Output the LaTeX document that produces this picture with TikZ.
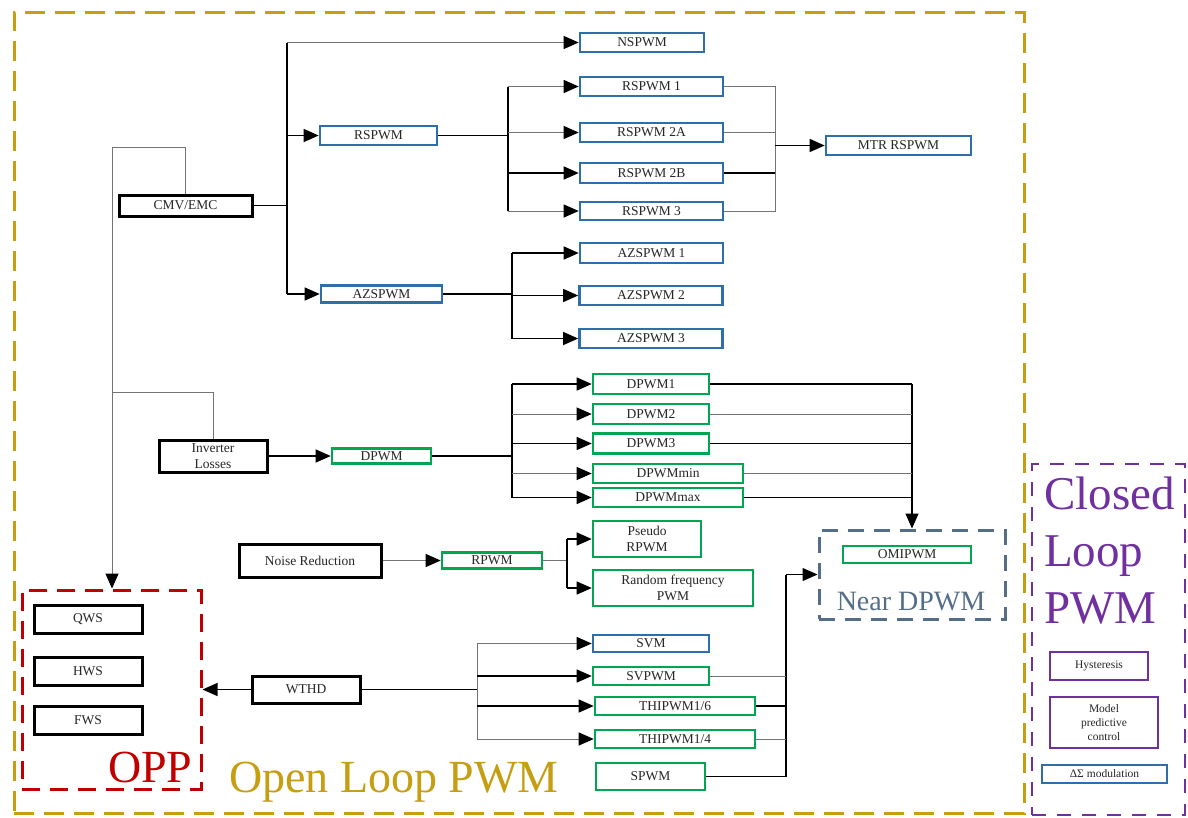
\documentclass[tikz,border=0pt]{standalone}
\usepackage{fontspec}
\setmainfont{Liberation Serif}
\usetikzlibrary{arrows.meta}
\definecolor{gold}{RGB}{198,158,18}
\definecolor{boxblue}{RGB}{46,110,170}
\definecolor{boxgreen}{RGB}{0,166,81}
\definecolor{oppred}{RGB}{192,0,0}
\definecolor{purp}{RGB}{112,48,160}
\definecolor{slate}{RGB}{84,110,135}
\tikzset{
  bx/.style={draw, line width=2.6pt, fill=white, inner sep=0pt, align=center,
    font=\fontsize{13.5}{16}\selectfont, text=black!85},
  sz/.style 2 args={minimum width=#1pt, minimum height=#2pt},
  bbox/.style={bx, draw=boxblue},
  gbox/.style={bx, draw=boxgreen},
  kbox/.style={bx, draw=black, line width=3pt},
  pbox/.style={bx, draw=purp, line width=2.2pt, font=\fontsize{11.5}{14}\selectfont},
  wk/.style={line width=1.3pt, draw=black},
  wg/.style={line width=1pt, draw=black!55},
  ar/.style={-{Triangle[length=15pt,width=13pt,color=black]}},
  bigtxt/.style={anchor=base west, inner sep=0pt, font=\fontsize{46}{46}\selectfont},
}
\begin{document}
\begin{tikzpicture}[x=1pt,y=-1pt]
\useasboundingbox (0,0) rectangle (1188,817);
% containers
\node[draw=gold, line width=3pt, dash pattern=on 20pt off 10pt, sz={1010}{801}, inner sep=0pt] (outer) at (519,412.5) {};
\node[draw=purp, line width=2.5pt, dash pattern=on 14pt off 11pt, sz={153}{351}, inner sep=0pt] (closed) at (1108.5,639.5) {};
\node[draw=oppred, line width=3pt, dash pattern=on 18pt off 10pt, sz={179}{199}, inner sep=0pt] (opp) at (111.5,689.5) {};
\node[draw=slate, line width=3pt, dash pattern=on 16pt off 10pt, sz={186}{89}, inner sep=0pt] (nearbox) at (912,574.5) {};

% boxes
\node[kbox, sz={133}{21}] (cmv) at (185.5,205.5) {CMV/EMC};
\node[bbox, sz={124}{19}] (nspwm) at (642,42.5) {NSPWM};
\node[bbox, sz={117}{19}] (rspwm) at (378.5,135.5) {RSPWM};
\node[bbox, sz={121}{17}] (azspwm) at (381.5,294) {AZSPWM};
\node[bbox, sz={143}{19}] (rs1) at (651.5,86.5) {RSPWM 1};
\node[bbox, sz={143}{19}] (rs2a) at (651.5,132.5) {RSPWM 2A};
\node[bbox, sz={143}{20}] (rs2b) at (651.5,173) {RSPWM 2B};
\node[bbox, sz={143}{18}] (rs3) at (651.5,211) {RSPWM 3};
\node[bbox, sz={145}{19}] (mtr) at (898.5,145.5) {MTR RSPWM};
\node[bbox, sz={143}{20}] (az1) at (651.5,253) {AZSPWM 1};
\node[bbox, sz={143}{19}] (az2) at (651,295.5) {AZSPWM 2};
\node[bbox, sz={143}{19}] (az3) at (651,338.5) {AZSPWM 3};
\node[kbox, sz={108}{32}] (inv) at (213,456) {Inverter\\Losses};
\node[gbox, sz={99}{15}] (dpwm) at (381.5,456) {DPWM};
\node[gbox, sz={116}{20}] (d1) at (651,384) {DPWM1};
\node[gbox, sz={116}{20}] (d2) at (651,414) {DPWM2};
\node[gbox, sz={116}{20}] (d3) at (651,443.5) {DPWM3};
\node[gbox, sz={150}{19}] (dmin) at (668,473.5) {DPWMmin};
\node[gbox, sz={150}{19}] (dmax) at (668,497.5) {DPWMmax};
\node[kbox, sz={142}{33}] (noise) at (310,560.5) {Noise Reduction};
\node[gbox, sz={100}{16}] (rpwm) at (492,560.5) {RPWM};
\node[gbox, sz={108}{36}] (pseudo) at (647,539) {Pseudo\\RPWM};
\node[gbox, sz={160}{36}] (rand) at (673,588) {Random frequency\\PWM};
\node[gbox, sz={128}{17}] (omi) at (907,554.5) {OMIPWM};
\node[kbox, sz={108}{27}] (wthd) at (306,689.5) {WTHD};
\node[bbox, sz={116}{17}] (svm) at (651,643.5) {SVM};
\node[gbox, sz={116}{18}] (svpwm) at (651,676) {SVPWM};
\node[gbox, sz={160}{18}] (thi6) at (675,706) {THIPWM1/6};
\node[gbox, sz={160}{18}] (thi4) at (675,739) {THIPWM1/4};
\node[gbox, sz={109}{27}] (spwm) at (650.5,776.5) {SPWM};
\node[kbox, sz={108}{28}] (qws) at (88,619) {QWS};
\node[kbox, sz={108}{28}] (hws) at (88,671) {HWS};
\node[kbox, sz={108}{28}] (fws) at (88,720) {FWS};
\node[pbox, sz={98}{28}] (hyst) at (1099,666) {Hysteresis};
\node[pbox, sz={108}{51}] (mpc) at (1104,722.5) {Model\\predictive\\control};
\node[pbox, draw=boxblue, sz={125}{18}] (ds) at (1104.5,774) {ΔΣ modulation};

% big labels
\node[bigtxt, text=gold] (olp) at (229,792) {Open Loop PWM};
\node[bigtxt, text=oppred] (opptxt) at (108,782) {OPP};
\node[anchor=base, inner sep=0pt, text=slate, font=\fontsize{28}{28}\selectfont] (neartxt) at (911,610) {Near DPWM};
\node[bigtxt, text=purp, font=\fontsize{47}{47}\selectfont] (cl1) at (1044,509) {Closed};
\node[bigtxt, text=purp, font=\fontsize{47}{47}\selectfont] (cl2) at (1044,566) {Loop};
\node[bigtxt, text=purp, font=\fontsize{47}{47}\selectfont] (cl3) at (1044,623) {PWM};

% CMV to OPP and inverter feed
\coordinate (tl) at (112,147);
\coordinate (il) at (112,392);
\draw[wg] (cmv.north) |- (tl);
\draw[wg,ar] (tl) -- (tl |- opp.north);
\draw[wg] (inv.north) |- (il);

% CMV branches
\coordinate (j1) at (287,205.5);
\draw[wk] (cmv.east) -- (j1);
\draw[wk] (j1 |- nspwm.west) -- (j1 |- azspwm.west);
\draw[wg,ar] (j1 |- nspwm.west) -- (nspwm.west);
\draw[wk,ar] (j1 |- rspwm.west) -- (rspwm.west);
\draw[wk,ar] (j1 |- azspwm.west) -- (azspwm.west);

% RSPWM branches
\coordinate (j2) at (508,135.5);
\draw[wk] (rspwm.east) -- (j2);
\draw[wk] (j2 |- rs1.west) -- (j2 |- rs3.west);
\draw[wg,ar] (j2 |- rs1.west) -- (rs1.west);
\draw[wg,ar] (j2 |- rs2a.west) -- (rs2a.west);
\draw[wk,ar] (j2 |- rs2b.west) -- (rs2b.west);
\draw[wg,ar] (j2 |- rs3.west) -- (rs3.west);
\coordinate (j3) at (775,145.5);
\draw[wg] (rs1.east) -- (rs1.east -| j3) -- (rs3.east -| j3) -- (rs3.east);
\draw[wg] (rs2a.east) -- (rs2a.east -| j3);
\draw[wk] (rs2b.east) -- (rs2b.east -| j3);
\draw[wk,ar] (j3) -- (mtr.west);

% AZSPWM branches
\coordinate (j4) at (512,294);
\draw[wk] (azspwm.east) -- (j4);
\draw[wk] (j4 |- az1.west) -- (j4 |- az3.west);
\draw[wk,ar] (j4 |- az1.west) -- (az1.west);
\draw[wk,ar] (j4 |- az2.west) -- (az2.west);
\draw[wk,ar] (j4 |- az3.west) -- (az3.west);

% DPWM branches
\draw[wk,ar] (inv.east) -- (dpwm.west);
\coordinate (j5) at (512,456);
\draw[wk] (dpwm.east) -- (j5);
\draw[wk] (j5 |- d1.west) -- (j5 |- dmax.west);
\draw[wk,ar] (j5 |- d1.west) -- (d1.west);
\draw[wg,ar] (j5 |- d2.west) -- (d2.west);
\draw[wk,ar] (j5 |- d3.west) -- (d3.west);
\draw[wg,ar] (j5 |- dmin.west) -- (dmin.west);
\draw[wk,ar] (j5 |- dmax.west) -- (dmax.west);
\draw[wk] (d1.east) -- (d1.east -| nearbox.north);
\draw[wk,ar] (d1.east -| nearbox.north) -- (nearbox.north);
\draw[wg] (d2.east) -- (d2.east -| nearbox.north);
\draw[wk] (d3.east) -- (d3.east -| nearbox.north);
\draw[wg] (dmin.east) -- (dmin.east -| nearbox.north);
\draw[wk] (dmax.east) -- (dmax.east -| nearbox.north);

% Noise reduction
\draw[wg,ar] (noise.east) -- (rpwm.west);
\coordinate (j7) at (567,560.5);
\draw[wg] (rpwm.east) -- (j7);
\draw[wk] (j7 |- pseudo.west) -- (j7 |- rand.west);
\draw[wk,ar] (j7 |- pseudo.west) -- (pseudo.west);
\draw[wk,ar] (j7 |- rand.west) -- (rand.west);

% WTHD
\draw[wk,ar] (wthd.west) -- (opp.east);
\coordinate (j8) at (477,689.5);
\draw[wk] (wthd.east) -- (j8);
\draw[wg] (j8 |- svm.west) -- (j8 |- thi4.west);
\draw[wg,ar] (j8 |- svm.west) -- (svm.west);
\draw[wk,ar] (j8 |- svpwm.west) -- (svpwm.west);
\draw[wk,ar] (j8 |- thi6.west) -- (thi6.west);
\draw[wg,ar] (j8 |- thi4.west) -- (thi4.west);

% to Near DPWM
\coordinate (j9) at (786,574.5);
\draw[wk] (spwm.east) -| (j9);
\draw[wk,ar] (j9) -- (nearbox.west);
\draw[wg] (svpwm.east) -- (svpwm.east -| j9);
\draw[wk] (thi6.east) -- (thi6.east -| j9);
\draw[wg] (thi4.east) -- (thi4.east -| j9);
\end{tikzpicture}
\end{document}
